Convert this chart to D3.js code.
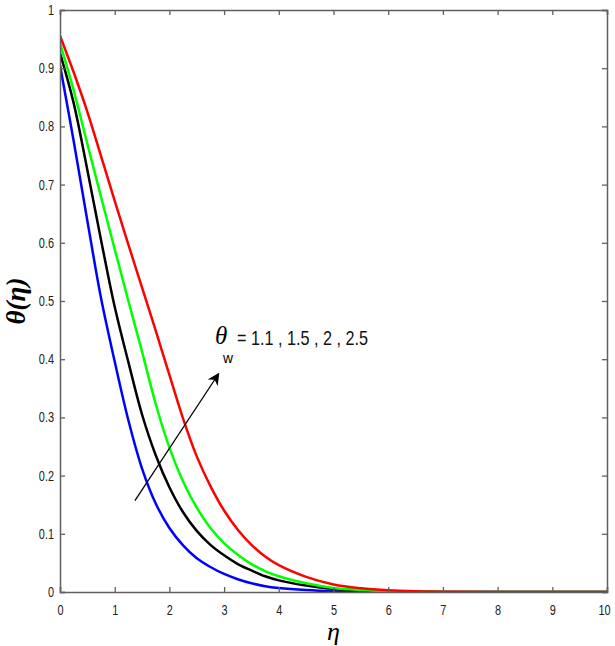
<!DOCTYPE html>
<html>
<head>
<meta charset="utf-8">
<script src="https://cdn.jsdelivr.net/npm/d3@7"></script>
<style>
  body { margin: 0; background: #fff; }
  svg { display: block; }
</style>
</head>
<body>
<div id="chart"></div>
<script>
const width = 615;
const height = 646;
const margin = { top: 10, right: 8, bottom: 54, left: 60 };

// eta grid and theta values, one array per theta_w
const eta = [0,0.25,0.5,0.75,1,1.25,1.5,1.75,2,2.25,2.5,2.75,3,3.25,3.5,3.75,4,4.5,5,5.5,6,6.5,7,8,10];
const thetaW11 = [0.905,0.775,0.638,0.505,0.396,0.295,0.212,0.152,0.110,0.080,0.058,0.043,0.031,0.022,0.015,0.010,0.007,0.0035,0.0015,0.0006,0.0002,0,0,0,0];
const thetaW15 = [0.926,0.84,0.725,0.605,0.49,0.395,0.305,0.235,0.180,0.137,0.105,0.081,0.063,0.048,0.037,0.027,0.020,0.011,0.005,0.0025,0.001,0.0004,0,0,0];
const thetaW2 = [0.943,0.862,0.77,0.679,0.589,0.5,0.413,0.323,0.248,0.19,0.145,0.11,0.084,0.064,0.048,0.036,0.027,0.015,0.007,0.0035,0.0015,0.0006,0.0002,0,0];
const thetaW25 = [0.956,0.893,0.825,0.749,0.672,0.597,0.523,0.449,0.373,0.298,0.233,0.182,0.140,0.107,0.081,0.061,0.046,0.026,0.013,0.0065,0.003,0.0013,0.0005,0,0];

const seriesColors = ["#0000ff", "#000000", "#00ff00", "#ff0000"];
const xTicks = [0,1,2,3,4,5,6,7,8,9,10];
const yTicks = [0,0.1,0.2,0.3,0.4,0.5,0.6,0.7,0.8,0.9,1];
const annotationValues = "= 1.1 , 1.5 , 2 , 2.5";
// arrow from (eta, theta) to (eta, theta)
const arrowFrom = [1.37, 0.157];
const arrowTo = [2.9, 0.375];

const svg = d3.select("#chart")
  .append("svg")
  .attr("width", width)
  .attr("height", height);

const x = d3.scaleLinear().domain([0, 10]).range([margin.left, width - margin.right]);
const y = d3.scaleLinear().domain([0, 1]).range([height - margin.bottom, margin.top]);

const axisColor = "#606060";
const squeeze = 0.78; // the figure's text is horizontally compressed

function styleAxis(g) {
  g.select(".domain").attr("stroke", axisColor).attr("stroke-width", 1.5);
  g.selectAll(".tick line").attr("stroke", axisColor).attr("stroke-width", 1.3);
  g.selectAll(".tick text")
    .attr("fill", "#222")
    .style("font-family", "'Liberation Sans', Arial, sans-serif")
    .style("font-size", "14px");
}

const defs = svg.append("defs");
defs.append("clipPath")
  .attr("id", "plot-clip")
  .append("rect")
  .attr("x", x(0))
  .attr("y", y(1))
  .attr("width", x(10) - x(0))
  .attr("height", y(0) - y(1) + 1);

// curves
const line = d3.line()
  .x(d => x(d[0]))
  .y(d => y(d[1]))
  .curve(d3.curveCatmullRom.alpha(0.5));

const series = [thetaW11, thetaW15, thetaW2, thetaW25].map(vals => eta.map((e, i) => [e, vals[i]]));

svg.append("g")
  .attr("clip-path", "url(#plot-clip)")
  .selectAll("path.curve")
  .data(series)
  .join("path")
  .attr("class", "curve")
  .attr("d", d => line(d))
  .attr("fill", "none")
  .attr("stroke", (d, i) => seriesColors[i])
  .attr("stroke-width", 2.5);

// box axes
svg.append("g")
  .attr("transform", `translate(0, ${y(0)})`)
  .call(d3.axisBottom(x).tickValues(xTicks).tickSize(-5).tickPadding(13).tickFormat(d3.format("d")))
  .call(styleAxis);

svg.append("g")
  .attr("transform", `translate(0, ${y(1)})`)
  .call(d3.axisTop(x).tickValues(xTicks).tickSize(-5).tickFormat(""))
  .call(styleAxis);

svg.append("g")
  .attr("transform", `translate(${x(0)}, 0)`)
  .call(d3.axisLeft(y).tickValues(yTicks).tickSize(-5).tickPadding(6).tickFormat(d => d === 0 || d === 1 ? d3.format("d")(d) : d3.format(".1f")(d)))
  .call(styleAxis);

svg.append("g")
  .attr("transform", `translate(${x(10)}, 0)`)
  .call(d3.axisRight(y).tickValues(yTicks).tickSize(-5).tickFormat(""))
  .call(styleAxis);

svg.selectAll(".tick text").each(function() {
  const w = this.getComputedTextLength();
  if (w > 0) d3.select(this).attr("textLength", w * squeeze).attr("lengthAdjust", "spacingAndGlyphs");
});

// keep the last x label inside the picture
svg.selectAll(".tick text")
  .filter(function() { return d3.select(this).text() === "10"; })
  .attr("dx", -3);

// axis labels
svg.append("text")
  .attr("x", (x(0) + x(10)) / 2)
  .attr("y", 640)
  .attr("text-anchor", "middle")
  .style("font-family", "'Liberation Serif', 'Times New Roman', serif")
  .style("font-style", "italic")
  .style("font-size", "26px")
  .text("η");

svg.append("text")
  .attr("transform", `translate(25, ${y(0.5)}) rotate(-90)`)
  .attr("text-anchor", "middle")
  .style("font-family", "'Liberation Serif', 'Times New Roman', serif")
  .style("font-style", "italic")
  .style("font-weight", "bold")
  .style("font-size", "27px")
  .text("θ(η)");

// annotation
const note = svg.append("g");
note.append("text")
  .attr("x", 215)
  .attr("y", 344)
  .style("font-family", "'Liberation Serif', 'Times New Roman', serif")
  .style("font-style", "italic")
  .style("font-size", "25px")
  .text("θ");
note.append("text")
  .attr("x", 223)
  .attr("y", 363)
  .attr("textLength", 10)
  .attr("lengthAdjust", "spacingAndGlyphs")
  .style("font-family", "'Liberation Sans', Arial, sans-serif")
  .style("font-size", "15px")
  .text("w");
note.append("text")
  .attr("x", 237)
  .attr("y", 345)
  .attr("textLength", 131)
  .attr("lengthAdjust", "spacingAndGlyphs")
  .style("font-family", "'Liberation Sans', Arial, sans-serif")
  .style("font-size", "21px")
  .attr("fill", "#111")
  .text(annotationValues);

// arrow
defs.append("marker")
  .attr("id", "head")
  .attr("viewBox", "0 0 10 10")
  .attr("refX", 9)
  .attr("refY", 5)
  .attr("markerWidth", 12)
  .attr("markerHeight", 12)
  .attr("markerUnits", "userSpaceOnUse")
  .attr("orient", "auto")
  .append("path")
  .attr("d", "M0,0 L10,5 L0,10 L3,5 Z")
  .attr("fill", "#000");

svg.append("line")
  .attr("x1", x(arrowFrom[0]))
  .attr("y1", y(arrowFrom[1]))
  .attr("x2", x(arrowTo[0]))
  .attr("y2", y(arrowTo[1]))
  .attr("stroke", "#000")
  .attr("stroke-width", 1.3)
  .attr("marker-end", "url(#head)");
</script>
</body>
</html>
